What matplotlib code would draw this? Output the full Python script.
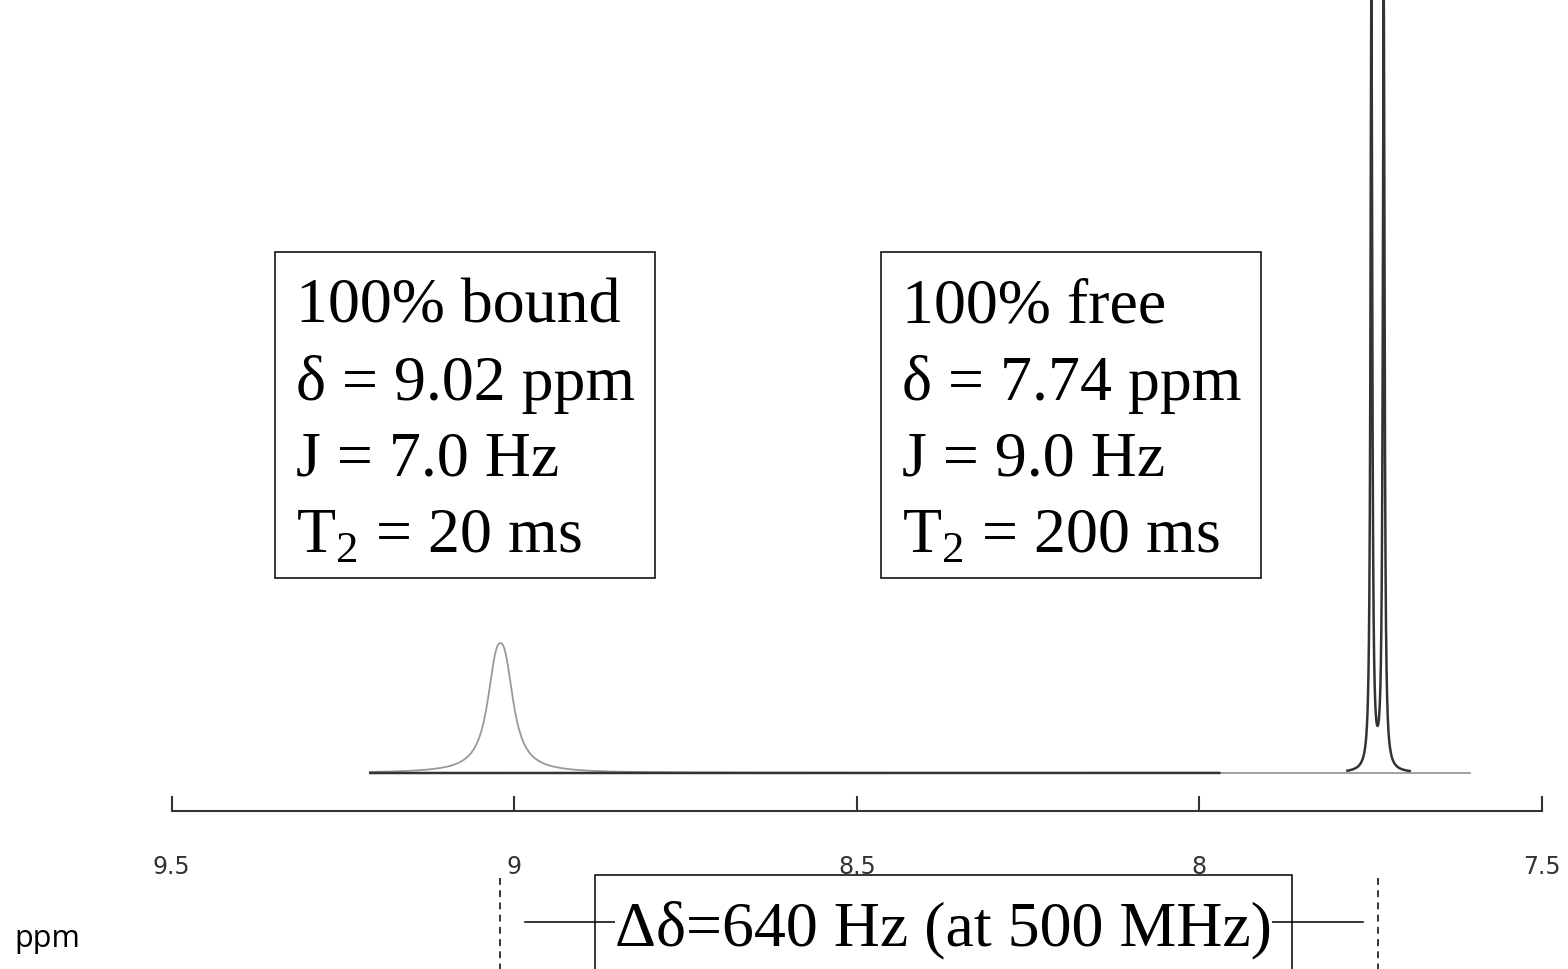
import numpy as np
import matplotlib
matplotlib.use("Agg")
import matplotlib.pyplot as plt
from matplotlib.patches import Rectangle
from matplotlib.transforms import blended_transform_factory

# spectrum parameters
spec_freq = 500.0                 # MHz
labels = ["bound", "free"]
shifts = [9.02, 7.74]             # ppm
couplings = [7.0, 9.0]            # Hz
t2_values = [0.020, 0.200]        # s
box_lines = [["100% bound", "\u03b4 = 9.02 ppm", "J = 7.0 Hz", "T$_\\mathregular{2}$ = 20 ms"],
             ["100% free", "\u03b4 = 7.74 ppm", "J = 9.0 Hz", "T$_\\mathregular{2}$ = 200 ms"]]
delta_label = "\u0394\u03b4=640 Hz (at 500 MHz)"

# ppm ranges over which each trace is drawn
bound_range = (9.21, 7.605)
free_ranges = [(9.21, 7.971), (7.784, 7.693)]
tick_values = [9.5, 9.0, 8.5, 8.0, 7.5]
tick_labels = ["9.5", "9", "8.5", "8", "7.5"]

W, H = 1568, 969
dark = "#333333"
light = "#999999"
serif = "Liberation Serif"


def doublet(ppm, shift, j, t2):
    hz = (ppm - shift) * spec_freq
    gamma = 1.0 / (np.pi * t2) / 2.0
    out = np.zeros_like(ppm)
    for off in (-j / 2, j / 2):
        out += (gamma / np.pi) / ((hz - off) ** 2 + gamma ** 2)
    return out


ppm = np.linspace(bound_range[0], bound_range[1], 20000)
bound = doublet(ppm, shifts[0], couplings[0], t2_values[0])
free = doublet(ppm, shifts[1], couplings[1], t2_values[1])
norm = bound.max()
bound = bound / norm
free = free / norm

free_mask = np.zeros_like(ppm, dtype=bool)
for a, b in free_ranges:
    free_mask |= (ppm <= a) & (ppm >= b)
free_drawn = np.where(free_mask, free, np.nan)

fig = plt.figure(figsize=(W / 100, H / 100), dpi=100)
spine_y = 811
ax = fig.add_axes([0, (H - spine_y) / H, 1, spine_y / H])
ax.set_xlim(9.5 + 171.5 / 685.25, 9.5 - (W - 171.5) / 685.25)
peak_px = 130.0
ax.set_ylim(-(spine_y - 773) / peak_px, 773 / peak_px)

ax.plot(ppm, bound, color=light, lw=1.3, zorder=2)
ax.plot(ppm, free_drawn, color=dark, lw=1.8, zorder=3)

for s in ["top", "left", "right"]:
    ax.spines[s].set_visible(False)
ax.spines["bottom"].set_bounds(7.5, 9.5)
ax.spines["bottom"].set_color("#333333")
ax.spines["bottom"].set_linewidth(1.5)
ax.set_yticks([])
ax.set_xticks(tick_values)
ax.set_xticklabels(tick_labels)
ax.tick_params(axis="x", direction="in", length=11, width=1.5, color="#333333",
               pad=32, labelsize=17, labelcolor="#333333")

# text boxes
def fx(px):
    return px / W


def fy(py):
    return 1 - py / H


for k, x0 in enumerate([275, 881]):
    fig.add_artist(Rectangle((fx(x0), fy(578)), fx(380), 326 / H, transform=fig.transFigure,
                             fill=False, ec="black", lw=1.1))
    for i, line in enumerate(box_lines[k]):
        fig.text(fx(x0 + 21), fy(323 + 76.5 * i), line, family=serif, fontsize=46,
                 va="baseline", ha="left")

# delta annotation under the axis
tr = blended_transform_factory(ax.transData, fig.transFigure)
for s in shifts:
    ax.plot([s, s], [fy(878), fy(H + 5)], transform=tr, color="black", lw=1.1,
            ls=(0, (4.5, 3.5)), clip_on=False)
ax.plot([8.984, 7.761], [fy(922), fy(922)], transform=tr, color="black", lw=1.1,
        clip_on=False, zorder=1)
fig.text(fx(943.5), fy(945), delta_label, family=serif, fontsize=46, ha="center",
         va="baseline", bbox=dict(facecolor="white", edgecolor="none", pad=0), zorder=5)
fig.add_artist(Rectangle((fx(595), fy(H + 10)), fx(697), (H + 10 - 875) / H,
                         transform=fig.transFigure, fill=False, ec="black", lw=1.1, zorder=6))

fig.text(fx(14), fy(947), "ppm", family="Open Sans", fontsize=22, va="baseline", ha="left")

fig.savefig("out.png", dpi=100)
